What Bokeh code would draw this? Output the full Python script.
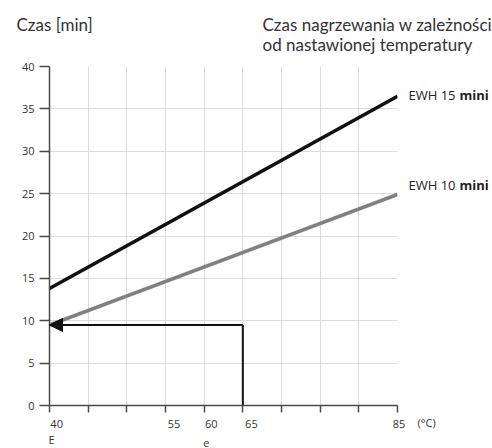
from bokeh.plotting import figure
from bokeh.models import Label, Arrow, NormalHead, FixedTicker, Range1d
from bokeh.embed import file_html
from bokeh.resources import INLINE

# ---- data ----
temperature = [40, 85]                 # °C
ewh15_time = [13.8, 36.5]              # min
ewh10_time = [9.5, 24.9]               # min
example_temp = 65
example_time = 9.5
x_ticks = [40, 45, 50, 55, 60, 65, 70, 75, 80, 85]
x_tick_labels = {40: "40", 55: "55", 60: "60", 65: "65", 85: "85"}
y_ticks = [0, 5, 10, 15, 20, 25, 30, 35, 40]
series_names = ["EWH 15 ", "EWH 10 "]
series_suffix = "mini"
header_left = "Czas [min]"
header_right = ["Czas nagrzewania w zależności", "od nastawionej temperatury"]
x_unit = "(°C)"
footer_marks = [(40, "E"), (60, "e")]

TICK_FONT = "Open Sans"
HEAD_FONT = "Lato"
NBSP = "\u00a0"
# labels in the original sit slightly right of their ticks
label_pad = {40: 5, 55: 6, 60: 5, 65: 6, 85: 1}

p = figure(width=492, height=448, x_range=Range1d(40, 85), y_range=Range1d(0, 40),
           output_backend="svg", toolbar_location=None,
           min_border_left=49, min_border_right=95, min_border_top=66, min_border_bottom=42)
p.outline_line_color = None

# grid
p.xgrid.ticker = FixedTicker(ticks=x_ticks)
p.ygrid.ticker = FixedTicker(ticks=y_ticks)
for g in (p.xgrid, p.ygrid):
    g.grid_line_color = "#dcdcdc"
    g.grid_line_width = 1

# axes
p.xaxis.ticker = FixedTicker(ticks=x_ticks)
p.xaxis.major_label_overrides = {
    t: (NBSP * label_pad.get(t, 0) + x_tick_labels[t]) if t in x_tick_labels else ""
    for t in x_ticks}
p.yaxis.ticker = FixedTicker(ticks=y_ticks)
for ax in (p.xaxis, p.yaxis):
    ax.axis_line_color = "#4a4a4a"
    ax.axis_line_width = 1.5
    ax.major_tick_line_color = "#4a4a4a"
    ax.major_tick_line_width = 1.5
    ax.minor_tick_line_color = None
    ax.major_tick_in = 0
    ax.major_label_text_font = TICK_FONT
    ax.major_label_text_font_size = "11px"
    ax.major_label_text_color = "#333333"
    ax.major_label_text_line_height = 1.0
p.xaxis.major_tick_out = 7
p.xaxis.major_label_standoff = 3
p.yaxis.major_tick_out = 10
p.yaxis.major_label_standoff = 5

# series lines
p.line(temperature, ewh15_time, line_color="#111111", line_width=3.5)
p.line(temperature, ewh10_time, line_color="#808080", line_width=3.5)

# example reading
p.line([example_temp, example_temp], [0, example_time], line_color="#111111", line_width=2)
p.add_layout(Arrow(x_start=example_temp, y_start=example_time, x_end=40, y_end=example_time,
                   line_color="#111111", line_width=2,
                   end=NormalHead(size=13, fill_color="#111111", line_color="#111111")))

# series labels (right panel): one two-line label per text style
y15 = ewh15_time[-1] + 0.2
y10 = ewh10_time[-1] + 1.0
y_mid = (y15 + y10) / 2
lh = 5.0
p.add_layout(Label(x=temperature[-1], y=y_mid, x_offset=11, text="\n".join(series_names),
                   text_font=TICK_FONT, text_font_size="13px", text_color="#222222",
                   text_line_height=lh, text_baseline="middle", text_align="left"), "right")
p.add_layout(Label(x=temperature[-1], y=y_mid, x_offset=62, text="\n".join([series_suffix] * 2),
                   text_font=TICK_FONT, text_font_size="13px", text_color="#222222",
                   text_font_style="bold", text_line_height=lh,
                   text_baseline="middle", text_align="left"), "right")

# headers (above panel)
p.add_layout(Label(x=40, y=40, x_offset=-33, y_offset=42, text=header_left,
                   text_font=HEAD_FONT, text_font_size="17px", text_color="#333333",
                   text_line_height=1.0, text_baseline="middle", text_align="left"), "above")
p.add_layout(Label(x=40, y=40, x_offset=213, y_offset=32, text="\n".join(header_right),
                   text_font=HEAD_FONT, text_font_size="17px", text_color="#333333",
                   text_line_height=0.96, text_baseline="middle", text_align="left"), "above")

# unit placed in the right panel row beside the last tick label
p.add_layout(Label(x=temperature[-1], y=0, x_offset=20, y_offset=-17, text=x_unit,
                   text_font=TICK_FONT, text_font_size="11px", text_color="#333333",
                   text_line_height=1.0, text_baseline="middle", text_align="left"), "below")
# marks under the axis (left panel, to keep the bottom border small)
for xv, t in footer_marks:
    p.add_layout(Label(x=xv, y=0, x_offset=-1, y_offset=-41, text=t,
                       text_font=TICK_FONT, text_font_size="11px", text_color="#333333",
                       text_baseline="bottom", text_align="left"), "left")

open("out.html", "w").write(file_html(p, INLINE))
